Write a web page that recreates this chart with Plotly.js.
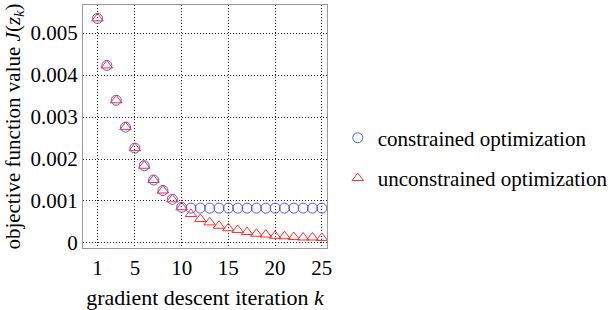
<!DOCTYPE html>
<html>
<head>
<meta charset="utf-8">
<script src="https://cdn.plot.ly/plotly-3.0.1.min.js"></script>
<style>html,body{margin:0;padding:0;background:#fff;}</style>
</head>
<body>
<div id="chart" style="width:613px;height:310px;"></div>
<script>
const iterations = [1,2,3,4,5,6,7,8,9,10,11,12,13,14,15,16,17,18,19,20,21,22,23,24,25];
const constrained = [0.00535,0.00423,0.00340,0.00276,0.00226,0.00184,0.00150,0.00125,0.00104,0.00085,
  0.00083,0.00083,0.00083,0.00083,0.00083,0.00083,0.00083,0.00083,0.00083,0.00083,0.00083,0.00083,0.00083,0.00083,0.00083];
const unconstrained = [0.00535,0.00423,0.00340,0.00276,0.00226,0.00184,0.00150,0.00125,0.00104,0.00085,
  0.00069,0.00057,0.00049,0.00041,0.00035,0.00031,0.00026,0.00022,0.00020,0.00017,0.00016,0.00014,0.00013,0.00013,0.00012];
const xTickVals = [1,5,10,15,20,25];
const yTickVals = [0,0.001,0.002,0.003,0.004,0.005];
const yTickText = ["0","0.001","0.002","0.003","0.004","0.005"];
const seriesNames = ["constrained optimization","unconstrained optimization"];

const FONT = "Liberation Serif";
const traces = [
  {x: iterations, y: constrained, name: seriesNames[0], mode: 'markers', type: 'scatter', legendgroup: 'a',
   marker: {symbol: 'circle-open', size: 10, color: 'rgb(85,85,255)', line: {width: 1}}},
  {x: iterations, y: unconstrained, name: seriesNames[1], mode: 'markers', type: 'scatter', legendgroup: 'b',
   marker: {symbol: 'triangle-up-open', size: 10, color: 'rgb(255,45,45)', line: {width: 1}}}
];
const axisCommon = {
  showline: true, mirror: true, linecolor: '#999', linewidth: 1,
  showgrid: true, gridcolor: '#222', gridwidth: 1, griddash: '1px,2px',
  zeroline: false, ticks: '', automargin: false
};
const layout = {
  width: 613, height: 310,
  margin: {l: 83, r: 286, t: 5, b: 62, autoexpand: false},
  paper_bgcolor: '#fff', plot_bgcolor: '#fff',
  font: {family: FONT, size: 21, color: '#000'},
  showlegend: true,
  legend: {xref: 'container', yref: 'container', x: 0.551, y: 0.49, xanchor: 'left', yanchor: 'middle',
           traceorder: 'grouped', tracegroupgap: 10,
           font: {family: FONT, size: 21, color: '#000'}, bgcolor: 'rgba(0,0,0,0)', itemwidth: 30},
  xaxis: Object.assign({}, axisCommon, {
    range: [-0.55, 25.55], tickvals: xTickVals, ticklabelstandoff: 1,
    tickfont: {family: FONT, size: 21, color: '#000'},
    title: {text: 'gradient descent iteration <i>k</i>', font: {family: FONT, size: 22, color: '#000'}, standoff: 16}
  }),
  yaxis: Object.assign({}, axisCommon, {
    range: [-0.00012, 0.00567], tickvals: yTickVals, ticktext: yTickText,
    tickfont: {family: FONT, size: 21, color: '#000'},
    title: {text: 'objective function value <i>J</i>(<i>z<sub>k</sub></i>)', font: {family: FONT, size: 21, color: '#000'}, standoff: 4}
  })
};
Plotly.newPlot('chart', traces, layout, {displayModeBar: false, staticPlot: true});
</script>
</body>
</html>
